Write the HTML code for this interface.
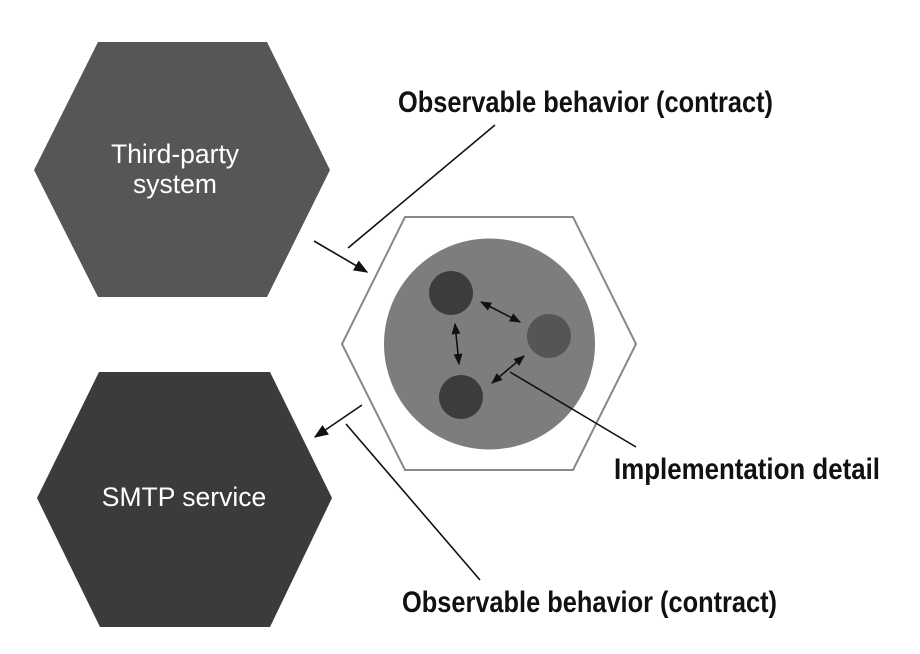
<!DOCTYPE html>
<html><head><meta charset="utf-8"><style>html,body{margin:0;padding:0;background:#fff}svg{display:block}</style></head>
<body>
<svg width="920" height="654" viewBox="0 0 920 654" xmlns="http://www.w3.org/2000/svg">
<defs>
<marker id="a" viewBox="0 0 10 10" refX="9" refY="5" markerWidth="7" markerHeight="7" orient="auto-start-reverse"><path d="M0,1 L10,5 L0,9 z" fill="#111"/></marker>
<marker id="b" viewBox="0 0 10 10" refX="9" refY="5" markerWidth="9" markerHeight="9" orient="auto-start-reverse"><path d="M0,1 L10,5 L0,9 z" fill="#111"/></marker>
</defs>
<polygon points="98,42 267,42 330,170 267,297 98,297 34,170" fill="#555756"/>
<text x="175" y="163" fill="#fff" font-family="Liberation Sans, sans-serif" font-size="26.5" text-anchor="middle">Third-party</text>
<text x="175" y="193" fill="#fff" font-family="Liberation Sans, sans-serif" font-size="26.5" text-anchor="middle">system</text>
<polygon points="99,372 270,372 332,498 270,627 100,627 37,498" fill="#3b3b3b"/>
<text x="184" y="506" fill="#fff" font-family="Liberation Sans, sans-serif" font-size="26.5" text-anchor="middle">SMTP service</text>
<polygon points="405,217 573,217 636,344 573,470 405,470 342,344" fill="#fff" stroke="#888" stroke-width="2"/>
<circle cx="489.5" cy="344" r="105.5" fill="#7c7d7c"/>
<circle cx="451" cy="293" r="22" fill="#3c3c3c"/>
<circle cx="549" cy="336" r="22" fill="#555"/>
<circle cx="461" cy="397" r="22" fill="#3c3c3c"/>
<g stroke="#111" stroke-width="1.6" fill="none">
<line x1="481" y1="302" x2="520" y2="322" marker-start="url(#a)" marker-end="url(#a)"/>
<line x1="455" y1="324" x2="459" y2="364" marker-start="url(#a)" marker-end="url(#a)"/>
<line x1="492" y1="383" x2="524" y2="356" marker-start="url(#a)" marker-end="url(#a)"/>
<line x1="510" y1="372" x2="636" y2="447"/>
<line x1="314" y1="241" x2="367" y2="272" marker-end="url(#b)"/>
<line x1="348" y1="248" x2="495" y2="125"/>
<line x1="362" y1="405" x2="315" y2="437" marker-end="url(#b)"/>
<line x1="346" y1="424" x2="480" y2="580"/>
</g>
<g font-family="Liberation Sans Narrow, Liberation Sans, sans-serif" font-weight="bold" font-size="30" fill="#111">
<text x="398" y="112" textLength="375" lengthAdjust="spacingAndGlyphs">Observable behavior (contract)</text>
<text x="614" y="479" textLength="266" lengthAdjust="spacingAndGlyphs">Implementation detail</text>
<text x="402" y="612" textLength="375" lengthAdjust="spacingAndGlyphs">Observable behavior (contract)</text>
</g>
</svg>
</body></html>
